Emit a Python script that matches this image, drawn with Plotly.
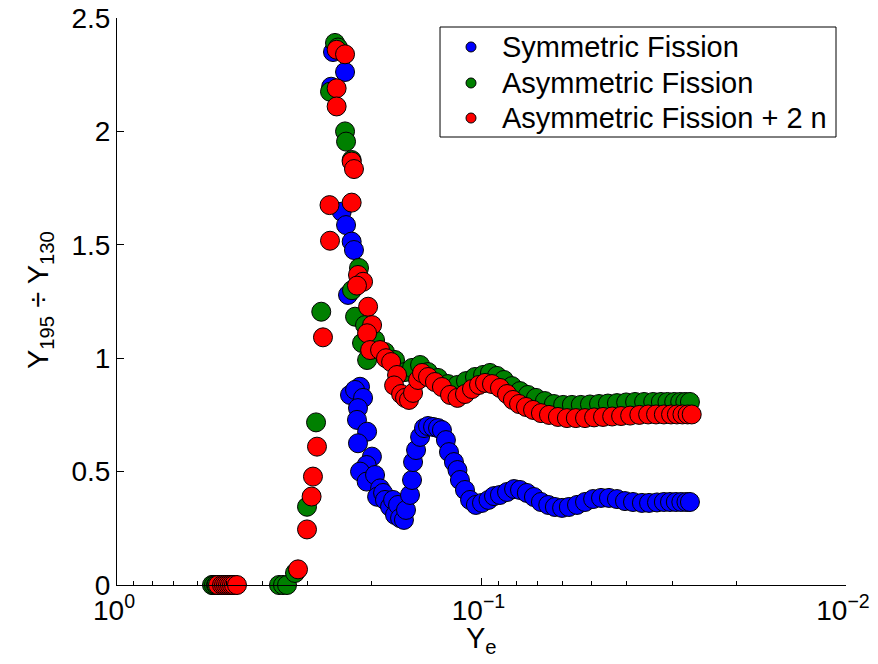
import plotly.graph_objects as go

# Electron fraction Ye and yield ratio Y195/Y130 for each fission model
sym_ye = [0.5450, 0.5250, 0.2555, 0.2368, 0.2585, 0.2418, 0.2353, 0.2271, 0.2238, 0.2324,
          0.2154, 0.2295, 0.2223, 0.2113, 0.2182, 0.2196, 0.2060, 0.2182, 0.1998, 0.2066,
          0.2154, 0.2066, 0.1959, 0.1898, 0.1934, 0.1862, 0.1840, 0.1782, 0.1748, 0.1727,
          0.1694, 0.1673, 0.1632, 0.1611, 0.1571, 0.1551, 0.1541, 0.1512, 0.1474, 0.1438,
          0.1402, 0.1358, 0.1316, 0.1284, 0.1252, 0.1228, 0.1190, 0.1164, 0.1146, 0.1110,
          0.1075, 0.1036, 0.0997, 0.0957, 0.0924, 0.0890, 0.0851, 0.0814, 0.0784, 0.0751,
          0.0718, 0.0687, 0.0656, 0.0629, 0.0601, 0.0576, 0.0547, 0.0520, 0.0494, 0.0470,
          0.0447, 0.0425, 0.0404, 0.0384, 0.0363, 0.0347, 0.0330, 0.0316, 0.0304, 0.0293,
          0.0283, 0.0274, 0.0268]
sym_ratio = [0.000, 0.000, 2.350, 2.262, 2.197, 1.646, 1.587, 1.514, 1.477, 1.279,
             0.874, 0.838, 0.860, 0.825, 0.780, 0.728, 0.676, 0.625, 0.566, 0.529,
             0.500, 0.456, 0.485, 0.426, 0.389, 0.406, 0.375, 0.345, 0.375, 0.309,
             0.353, 0.295, 0.287, 0.331, 0.397, 0.463, 0.542, 0.595, 0.653, 0.692,
             0.701, 0.697, 0.692, 0.683, 0.639, 0.586, 0.542, 0.507, 0.463, 0.419,
             0.375, 0.353, 0.362, 0.375, 0.392, 0.397, 0.410, 0.423, 0.419, 0.406,
             0.388, 0.366, 0.353, 0.344, 0.340, 0.344, 0.353, 0.366, 0.379, 0.384,
             0.384, 0.379, 0.370, 0.366, 0.362, 0.362, 0.364, 0.366, 0.366, 0.366,
             0.366, 0.366, 0.366]

asym_ye = [0.5488, 0.5420, 0.5351, 0.5334, 0.3594, 0.3504, 0.3416, 0.3248, 0.3011, 0.2844,
           0.2752, 0.2604, 0.2523, 0.2476, 0.2368, 0.2353, 0.2271, 0.2168, 0.2266, 0.2223,
           0.2087, 0.2127, 0.2060, 0.1959, 0.1840, 0.1727, 0.1621, 0.1551, 0.1474, 0.1402,
           0.1316, 0.1236, 0.1164, 0.1103, 0.1042, 0.0990, 0.0948, 0.0907, 0.0868, 0.0825,
           0.0784, 0.0746, 0.0709, 0.0670, 0.0633, 0.0597, 0.0565, 0.0534, 0.0504, 0.0476,
           0.0450, 0.0425, 0.0401, 0.0379, 0.0358, 0.0338, 0.0322, 0.0309, 0.0296, 0.0285,
           0.0276, 0.0268]
asym_ratio = [0.000, 0.000, 0.000, 0.000, 0.000, 0.000, 0.000, 0.053, 0.345, 0.717,
              1.205, 2.175, 2.390, 2.370, 2.000, 1.955, 1.874, 1.398, 1.300, 1.183,
              1.146, 1.067, 0.992, 1.080, 1.027, 0.992, 0.939, 0.957, 0.970, 0.939,
              0.913, 0.886, 0.882, 0.899, 0.917, 0.926, 0.935, 0.922, 0.904, 0.877,
              0.855, 0.838, 0.825, 0.811, 0.798, 0.794, 0.794, 0.794, 0.796, 0.798,
              0.800, 0.802, 0.805, 0.807, 0.807, 0.807, 0.807, 0.807, 0.807, 0.807,
              0.807, 0.807]

asym2n_ye = [0.5283, 0.5150, 0.5086, 0.5023, 0.4960, 0.4898, 0.4836, 0.4775, 0.4686, 0.3187,
             0.3011, 0.2925, 0.2900, 0.2827, 0.2722, 0.2612, 0.2604, 0.2497, 0.2497, 0.2497,
             0.2368, 0.2271, 0.2238, 0.2271, 0.2182, 0.2113, 0.2196, 0.2047, 0.1996, 0.2060,
             0.2021, 0.1898, 0.1828, 0.1770, 0.1705, 0.1737, 0.1662, 0.1621, 0.1581, 0.1541,
             0.1493, 0.1456, 0.1402, 0.1342, 0.1284, 0.1220, 0.1164, 0.1110, 0.1062, 0.1016,
             0.0978, 0.0936, 0.0890, 0.0851, 0.0820, 0.0789, 0.0755, 0.0722, 0.0687, 0.0653,
             0.0617, 0.0583, 0.0551, 0.0520, 0.0491, 0.0464, 0.0438, 0.0414, 0.0391, 0.0369,
             0.0349, 0.0332, 0.0316, 0.0302, 0.0291, 0.0281, 0.0272, 0.0265]
asym2n_ratio = [0.000, 0.000, 0.000, 0.000, 0.000, 0.000, 0.000, 0.000, 0.000, 0.069,
                0.245, 0.390, 0.478, 0.610, 1.092, 1.675, 1.518, 2.190, 2.110, 2.360,
                2.340, 1.867, 1.834, 1.686, 1.367, 1.337, 1.320, 1.227, 1.146, 1.110,
                1.036, 1.036, 1.000, 0.983, 0.926, 0.880, 0.842, 0.825, 0.816, 0.847,
                0.904, 0.935, 0.917, 0.895, 0.873, 0.838, 0.825, 0.842, 0.864, 0.882,
                0.891, 0.886, 0.869, 0.842, 0.816, 0.798, 0.785, 0.772, 0.758, 0.750,
                0.741, 0.736, 0.736, 0.736, 0.739, 0.741, 0.743, 0.745, 0.747, 0.750,
                0.752, 0.752, 0.752, 0.752, 0.752, 0.752, 0.752, 0.752]

series_names = ["Symmetric Fission", "Asymmetric Fission", "Asymmetric Fission + 2 n"]
series_colors = ["rgb(0,0,255)", "rgb(0,128,0)", "rgb(255,0,0)"]
series_x = [sym_ye, asym_ye, asym2n_ye]
series_y = [sym_ratio, asym_ratio, asym2n_ratio]

x_tick_vals = [1, 0.1, 0.01]
x_tick_text = ["10<sup>0</sup>", "10<sup>\u22121</sup>", "10<sup>\u22122</sup>"]
x_minor_vals = [m * 10.0 ** e for e in (-1, -2) for m in range(2, 10)]
y_tick_vals = [0, 0.5, 1, 1.5, 2, 2.5]
y_tick_text = ["0", "0.5", "1", "1.5", "2", "2.5"]

FONT = "Liberation Sans, Arial, sans-serif"
TICK_FS = 28
LEG_FS = 29

fig = go.Figure()

for name, xs, ys, color in zip(series_names, series_x, series_y, series_colors):
    fig.add_trace(go.Scatter(
        x=xs, y=ys, mode="markers", name=name, showlegend=False,
        cliponaxis=False,
        marker=dict(size=19, color=color, line=dict(color="black", width=1)),
    ))

# Legend box, drawn in paper coordinates
shapes = [dict(type="rect", xref="paper", yref="paper",
               x0=0.4431, x1=0.9863, y0=0.7901, y1=0.9841,
               line=dict(color="black", width=1), fillcolor="white", layer="above")]
annotations = []
legend_rows = [0.9489, 0.8854, 0.8236]
for name, color, ry in zip(series_names, series_colors, legend_rows):
    shapes.append(dict(type="circle", xref="paper", yref="paper",
                       xsizemode="pixel", ysizemode="pixel",
                       xanchor=0.4856, yanchor=ry, x0=-5, x1=5, y0=-5, y1=5,
                       line=dict(color="black", width=1), fillcolor=color,
                       layer="above"))
    annotations.append(dict(text=name, xref="paper", yref="paper",
                            x=0.5254, y=ry, xanchor="left", yanchor="middle",
                            showarrow=False,
                            font=dict(family=FONT, size=LEG_FS, color="black")))

# Axis titles
annotations.append(dict(text="Y<sub>e</sub>", xref="paper", yref="paper",
                        x=0.5, y=-0.062, xanchor="center", yanchor="top",
                        showarrow=False,
                        font=dict(family=FONT, size=LEG_FS, color="black")))
annotations.append(dict(text="Y<sub>195</sub> \u00f7 Y<sub>130</sub>",
                        xref="paper", yref="paper", textangle=-90,
                        x=-0.1056, y=0.5026, xanchor="center", yanchor="middle",
                        showarrow=False,
                        font=dict(family=FONT, size=LEG_FS, color="black")))

fig.update_layout(
    width=878, height=664,
    margin=dict(l=117, r=32, t=18, b=79),
    paper_bgcolor="white", plot_bgcolor="white",
    font=dict(family=FONT, size=TICK_FS, color="black"),
    showlegend=False,
    shapes=shapes,
    annotations=annotations,
    xaxis=dict(
        type="log", range=[0, -2], automargin=False,
        tickmode="array", tickvals=x_tick_vals, ticktext=x_tick_text,
        ticks="inside", ticklen=7, tickcolor="black", tickwidth=1,
        ticklabelshift=3,
        minor=dict(tickmode="array", tickvals=x_minor_vals, ticks="inside",
                   ticklen=4, tickcolor="black", tickwidth=1, showgrid=False),
        showline=True, linecolor="black", linewidth=1, mirror=False,
        showgrid=False, zeroline=False,
        tickfont=dict(family=FONT, size=TICK_FS, color="black"),
    ),
    yaxis=dict(
        range=[0, 2.5], automargin=False,
        tickmode="array", tickvals=y_tick_vals, ticktext=y_tick_text,
        ticks="inside", ticklen=7, tickcolor="black", tickwidth=1,
        showline=True, linecolor="black", linewidth=1, mirror=False,
        showgrid=False, zeroline=False,
        tickfont=dict(family=FONT, size=TICK_FS, color="black"),
    ),
)

fig.write_html("out.html")
